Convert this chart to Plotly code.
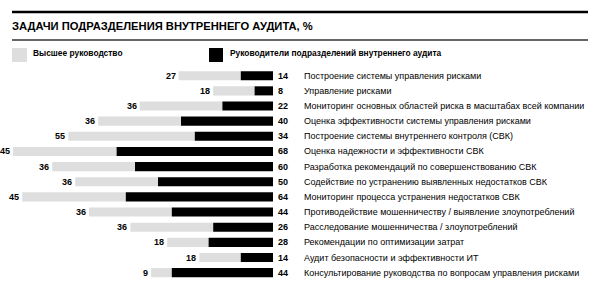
import plotly.graph_objects as go

categories = [
    "Построение системы управления рисками",
    "Управление рисками",
    "Мониторинг основных областей риска в масштабах всей компании",
    "Оценка эффективности системы управления рисками",
    "Построение системы внутреннего контроля (СВК)",
    "Оценка надежности и эффективности СВК",
    "Разработка рекомендаций по совершенствованию СВК",
    "Содействие по устранению выявленных недостатков СВК",
    "Мониторинг процесса устранения недостатков СВК",
    "Противодействие мошенничеству / выявление злоупотреблений",
    "Расследование мошенничества / злоупотреблений",
    "Рекомендации по оптимизации затрат",
    "Аудит безопасности и эффективности ИТ",
    "Консультирование руководства по вопросам управления рисками",
]
top_management = [27, 18, 36, 36, 55, 45, 36, 36, 45, 36, 36, 18, 18, 9]
audit_heads = [14, 8, 22, 40, 34, 68, 60, 50, 64, 44, 26, 28, 14, 44]

title_text = "ЗАДАЧИ ПОДРАЗДЕЛЕНИЯ ВНУТРЕННЕГО АУДИТА, %"
legend_names = ["Высшее руководство", "Руководители подразделений внутреннего аудита"]

GRAY = "#dedede"
BLACK = "#000000"
FONT = "Liberation Sans, Arial, sans-serif"

W, H = 600, 287
fig = go.Figure()

fig.add_trace(go.Bar(
    y=categories, x=top_management,
    base=[-(g + b) for g, b in zip(top_management, audit_heads)],
    orientation="h", marker=dict(color=GRAY, line=dict(width=0)),
    width=0.6, name=legend_names[0], showlegend=False, hoverinfo="skip",
))
fig.add_trace(go.Bar(
    y=categories, x=audit_heads,
    base=[-b for b in audit_heads],
    orientation="h", marker=dict(color=BLACK, line=dict(width=0)),
    width=0.6, name=legend_names[1], showlegend=False, hoverinfo="skip",
))

annotations = []
for cat, g, b in zip(categories, top_management, audit_heads):
    annotations.append(dict(x=-(g + b), y=cat, xref="x", yref="y", text=f"<b>{g}</b>",
                            xanchor="right", xshift=-1, showarrow=False,
                            font=dict(family=FONT, size=9, color="#000")))
    annotations.append(dict(x=0, y=cat, xref="x", yref="y", text=f"<b>{b}</b>",
                            xanchor="left", xshift=3, showarrow=False,
                            font=dict(family=FONT, size=9, color="#000")))
    annotations.append(dict(x=302 / W, y=cat, xref="paper", yref="y", text=cat,
                            xanchor="left", showarrow=False,
                            font=dict(family=FONT, size=9.0, color="#000")))

# title
annotations.append(dict(x=10 / W, y=1 - 26 / H, xref="paper", yref="paper", text=f"<b>{title_text}</b>",
                        xanchor="left", yanchor="middle", showarrow=False,
                        font=dict(family=FONT, size=11.2, color="#000")))
# legend texts
annotations.append(dict(x=31 / W, y=1 - 53 / H, xref="paper", yref="paper", text=f"<b>{legend_names[0]}</b>",
                        xanchor="left", yanchor="middle", showarrow=False,
                        font=dict(family=FONT, size=8.4, color="#000")))
annotations.append(dict(x=228 / W, y=1 - 53 / H, xref="paper", yref="paper", text=f"<b>{legend_names[1]}</b>",
                        xanchor="left", yanchor="middle", showarrow=False,
                        font=dict(family=FONT, size=8.4, color="#000")))

def px_rect(x0, y0, x1, y1, color):
    return dict(type="rect", xref="paper", yref="paper",
                x0=x0 / W, x1=x1 / W, y0=1 - y1 / H, y1=1 - y0 / H,
                fillcolor=color, line=dict(width=0), layer="above")

def px_line(x0, x1, y, width, color):
    return dict(type="line", xref="paper", yref="paper",
                x0=x0 / W, x1=x1 / W, y0=1 - y / H, y1=1 - y / H,
                line=dict(color=color, width=width))

shapes = [
    px_line(12, 588, 12, 2.5, "#000"),
    px_line(12, 588, 40, 1.5, "#333"),
    px_rect(12, 48, 27, 62, GRAY),
    px_rect(209, 48, 223, 62, BLACK),
]

scale = 2.3  # px per unit
fig.update_layout(
    width=W, height=H,
    margin=dict(l=0, r=0, t=0, b=0),
    paper_bgcolor="white", plot_bgcolor="white",
    barmode="overlay", bargap=0.4,
    xaxis=dict(range=[-273 / scale, (W - 273) / scale], visible=False, fixedrange=True),
    yaxis=dict(range=[(H - 75.7) / 15.15, -75.7 / 15.15], visible=False,
               type="category", categoryorder="array", categoryarray=categories, fixedrange=True),
    annotations=annotations, shapes=shapes,
    showlegend=False,
)

fig.write_html("out.html")
